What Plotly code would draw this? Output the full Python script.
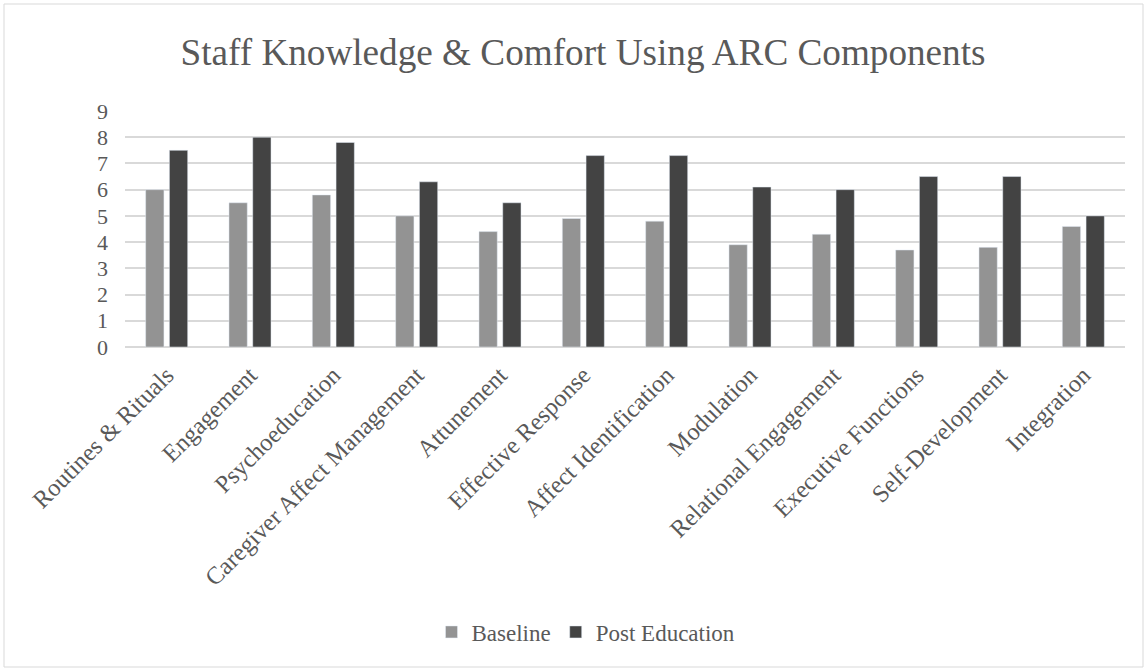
import plotly.graph_objects as go

categories = ["Routines & Rituals", "Engagement", "Psychoeducation", "Caregiver Affect Management",
              "Attunement", "Effective Response", "Affect Identification", "Modulation",
              "Relational Engagement", "Executive Functions", "Self-Development", "Integration"]
baseline = [6.0, 5.5, 5.8, 5.0, 4.4, 4.9, 4.8, 3.9, 4.3, 3.7, 3.8, 4.6]
post_education = [7.5, 8.0, 7.8, 6.3, 5.5, 7.3, 7.3, 6.1, 6.0, 6.5, 6.5, 5.0]
y_ticks = [0, 1, 2, 3, 4, 5, 6, 7, 8, 9]

FONT = "Liberation Serif, Times New Roman, serif"
TXT = "#595959"

W, H = 1147, 671
L, R, T, B = 125, 22, 111, 324
pw, ph = W - L - R, H - T - B

fig = go.Figure()
fig.add_trace(go.Bar(x=categories, y=baseline, name="Baseline", marker_color="#939393"))
fig.add_trace(go.Bar(x=categories, y=post_education, name="Post Education", marker_color="#434343"))

def px_x(x):
    return (x - L) / pw

def px_y(y):
    return (H - B - y) / ph

fig.add_shape(type="rect", xref="paper", yref="paper",
              x0=px_x(4), x1=px_x(1143), y0=px_y(667), y1=px_y(4),
              line=dict(color="#d9d9d9", width=1), fillcolor="rgba(0,0,0,0)", layer="below")

fig.update_layout(
    width=W, height=H,
    margin=dict(l=L, r=R, t=T, b=B, autoexpand=False),
    paper_bgcolor="white", plot_bgcolor="white",
    font=dict(family=FONT, color=TXT),
    title=dict(text="Staff Knowledge & Comfort Using ARC Components",
               x=583 / W, xanchor="center", y=1 - 52 / H, yanchor="middle",
               font=dict(size=37.2, family=FONT, color=TXT)),
    barmode="group", bargap=0.43, bargroupgap=0.23,
    legend=dict(orientation="h", x=px_x(586), xanchor="center", y=px_y(632), yanchor="middle",
                font=dict(size=23, family=FONT, color=TXT), itemwidth=30),
    showlegend=True,
)
fig.update_yaxes(range=[0, 9], tickvals=y_ticks, showgrid=True, gridcolor="#d9d9d9", gridwidth=1.5,
                 zeroline=True, zerolinecolor="#d9d9d9", zerolinewidth=1.5,
                 showline=False, ticks="", ticklabelstandoff=16,
                 tickfont=dict(size=22, family=FONT, color=TXT))
fig.update_xaxes(tickangle=-45, showgrid=False, showline=False, ticks="", ticklabelstandoff=8,
                 tickfont=dict(size=24.5, family=FONT, color=TXT))

fig.write_html("out.html")
